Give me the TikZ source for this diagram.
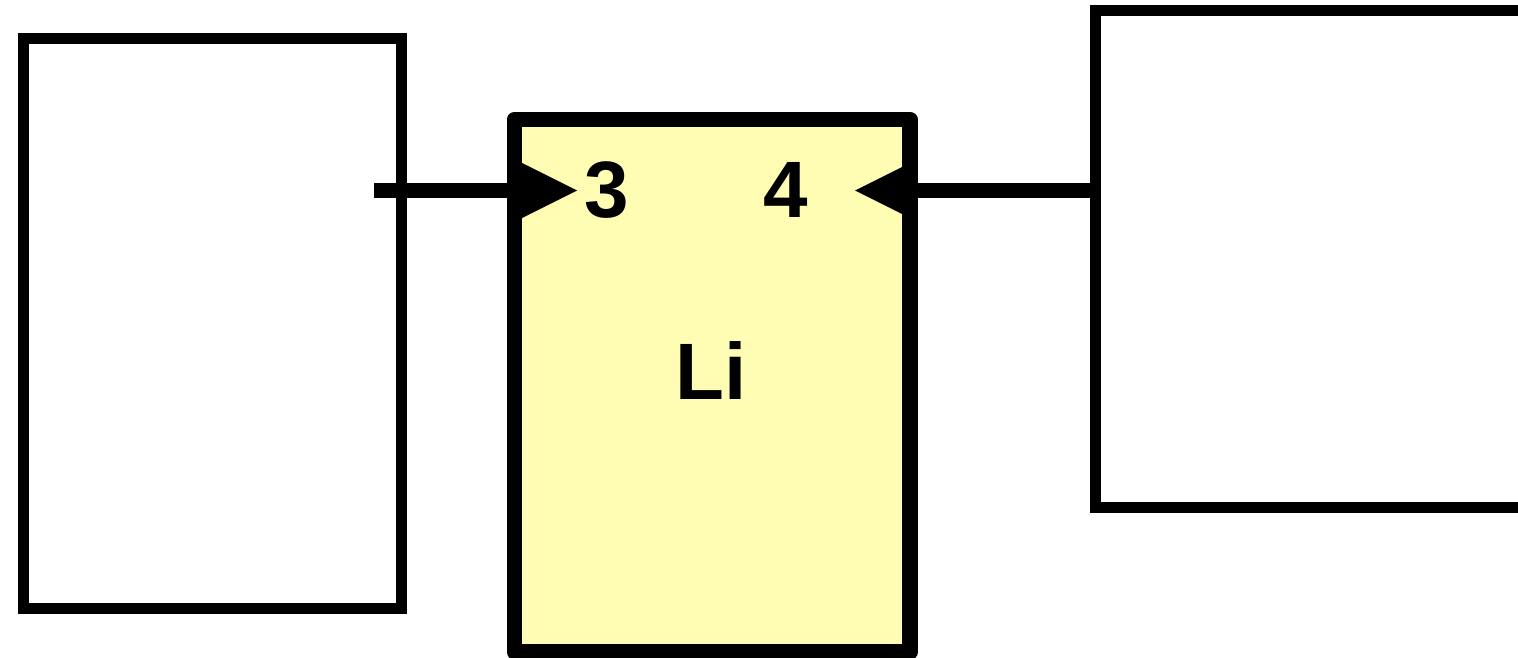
\documentclass[tikz,border=0pt]{standalone}
\usepackage{fontspec}
\setmainfont{Liberation Sans}
\usetikzlibrary{arrows.meta,calc}
\definecolor{blockfill}{RGB}{255,252,180}
\tikzset{
  plainbox/.style={draw=black,line width=11pt,fill=white,inner sep=0pt,outer sep=0pt,anchor=north west},
  blockbox/.style={draw=black,line width=15.5pt,fill=blockfill,line join=round,inner sep=0pt,outer sep=0pt,anchor=north west},
  conn/.style={draw=black,line width=15pt,-{Triangle[length=62pt,width=62pt,line width=0pt]}},
  portlabel/.style={font=\bfseries\fontsize{80}{96}\selectfont,inner sep=0pt,anchor=base}
}
\begin{document}
\begin{tikzpicture}[x=1pt,y=-1pt]
  \useasboundingbox (0,0) rectangle (1518,658);
  % outer blocks
  \node[plainbox,minimum width=377.5pt,minimum height=569.5pt] (L) at (23.5,38.5) {};
  \node[plainbox,minimum width=470pt,minimum height=497pt] (R) at (1095.5,10.5) {};
  % central block
  \node[blockbox,minimum width=395.5pt,minimum height=532.5pt] (M) at (514.5,119.5) {};
  % ports and block name
  \node[portlabel] (p3) at (607,217) {3};
  \node[portlabel] (p4) at (786,217) {4};
  \node[portlabel] (li) at (711.5,399) {Li};
  % connectors into the ports
  \coordinate (s3) at (374,190.5);
  \coordinate (s4) at (R.west |- s3);
  \draw[conn] (s3) -- ($(s3 -| M.west)+(62.5,0)$);
  \draw[conn] (s4) -- ($(s3 -| M.east)+(-55,0)$);
\end{tikzpicture}
\end{document}
